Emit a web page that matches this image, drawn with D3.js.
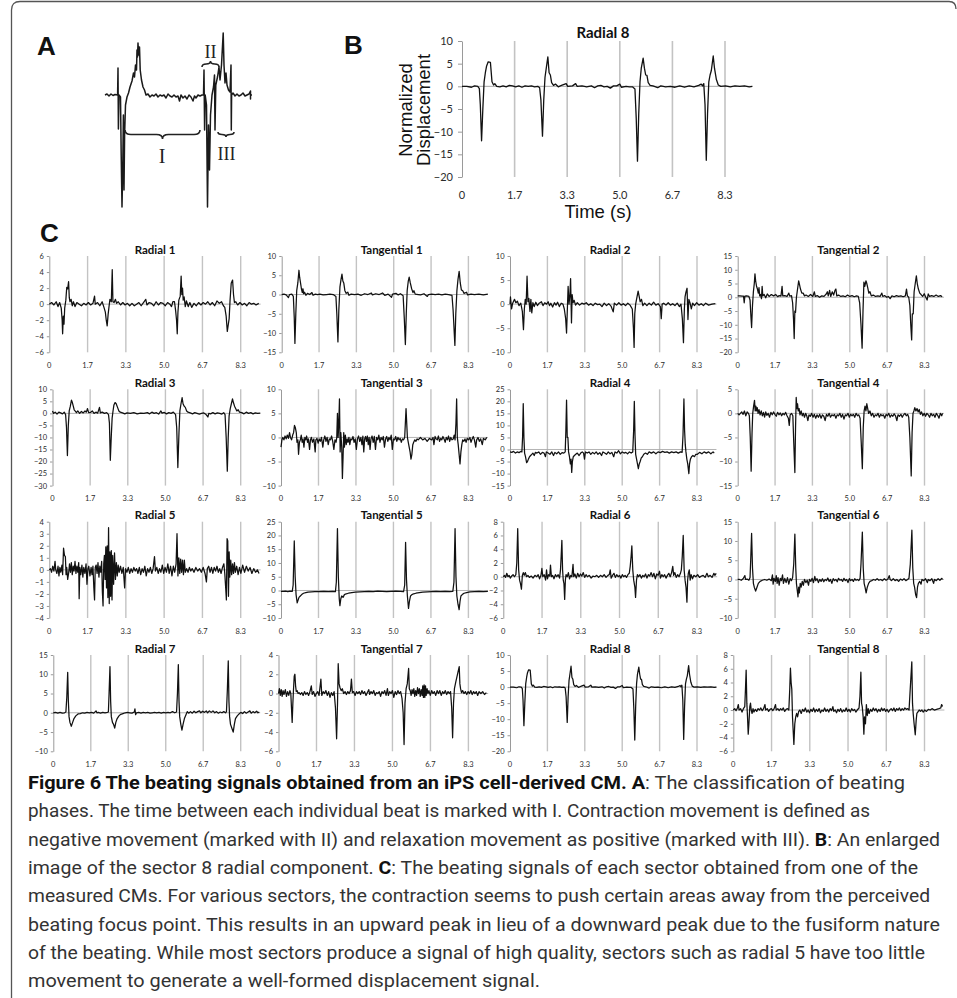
<!DOCTYPE html>
<html><head><meta charset="utf-8">
<script src="https://cdn.jsdelivr.net/npm/d3@7"></script>
<style>body{margin:0;background:#fff}svg{display:block}</style>
</head><body>
<script>
// ---------------- DATA ----------------
const timeTicks = [0, 1.667, 3.333, 5.0, 6.667, 8.333];
const timeTickLabels = ["0", "1.7", "3.3", "5.0", "6.7", "8.3"];

const panelTitles = ["Radial 1","Tangential 1","Radial 2","Tangential 2",
  "Radial 3","Tangential 3","Radial 4","Tangential 4",
  "Radial 5","Tangential 5","Radial 6","Tangential 6",
  "Radial 7","Tangential 7","Radial 8","Tangential 8"];
const yMin  = [-6,-15,-10,-20, -30,-10,-15,-15, -4,-10,-6,-10, -10,-6,-20,-6];
const yMax  = [ 6, 10, 10, 15,  10, 10, 25,  5,  4, 25, 8, 15,  15, 4, 10, 8];
const yStep = [ 2,  5,  5,  5,   5,  5,  5,  5,  1,  5, 2,  5,   5, 2,  5, 2];

const radial1 = [[0,0],[0.1,0.2],[0.2,-0.1],[0.3,0.3],[0.38,-0.3],[0.45,0.2],[0.52,-0.5],[0.56,-2],[0.58,-3.7],[0.61,-1.5],[0.64,-2.5],[0.67,-0.5],[0.72,0.5],[0.76,2.1],[0.8,1.9],[0.84,2.8],[0.87,0.8],[0.9,0.3],[0.95,0.6],[1.0,-0.2],[1.05,0.3],[1.12,-0.3],[1.2,0.2],[1.3,0],[1.4,-0.2],[1.5,0.1],[1.6,-0.1],[1.7,0.2],[1.8,-0.1],[1.9,0.1],[1.97,1],[2.0,0],[2.1,0.2],[2.2,-0.2],[2.3,0.3],[2.38,-0.4],[2.44,-1],[2.48,-2],[2.52,-2.7],[2.56,-1.3],[2.6,-0.3],[2.64,0.6],[2.7,0.3],[2.74,4.3],[2.77,0.3],[2.82,0.2],[2.88,0.6],[2.93,0.1],[3.0,0.3],[3.1,-0.1],[3.2,0.2],[3.3,-0.1],[3.4,0.1],[3.5,-0.2],[3.6,0.1],[3.7,-0.2],[3.8,0],[3.9,0.2],[4.0,-0.2],[4.1,0.2],[4.2,0.6],[4.25,-0.1],[4.35,0.2],[4.45,0.1],[4.55,-0.2],[4.65,0.3],[4.75,-0.1],[4.85,0.2],[4.95,0.1],[5.05,-0.2],[5.15,0.2],[5.25,0],[5.32,-0.3],[5.38,0.3],[5.45,0.3],[5.5,-0.8],[5.54,-2],[5.57,-3.7],[5.6,-1],[5.64,0.5],[5.7,1],[5.74,3.5],[5.77,1.2],[5.8,2],[5.83,0.5],[5.87,0.9],[5.92,-0.3],[5.97,0.4],[6.05,-0.3],[6.12,0.2],[6.2,-0.4],[6.3,0.1],[6.4,-0.2],[6.5,0.2],[6.6,-0.1],[6.7,0.2],[6.8,0],[6.9,0.3],[7.0,-0.1],[7.1,0.2],[7.2,-0.2],[7.3,0.4],[7.4,0.1],[7.5,0.3],[7.58,-0.2],[7.64,-0.4],[7.7,-1.5],[7.75,-3.4],[7.79,-2.6],[7.83,-1.8],[7.87,0.5],[7.92,2.6],[7.98,3],[8.02,1.2],[8.06,0.2],[8.12,0.3],[8.2,-0.1],[8.3,0.2],[8.4,-0.1],[8.5,0.1],[8.6,-0.2],[8.7,0.2],[8.8,0],[8.9,0.1],[9.0,-0.1],[9.12,0.1]];

const tangential1 = [[0,0],[0.1,0.1],[0.2,-0.1],[0.3,-0.8],[0.35,0],[0.45,0.1],[0.52,-0.5],[0.56,-6],[0.59,-12.7],[0.63,-5],[0.67,1],[0.72,3],[0.77,6.3],[0.8,4.5],[0.84,3],[0.88,1.5],[0.92,0.5],[0.95,1.5],[0.98,0.2],[1.02,0.6],[1.08,-0.2],[1.15,0.3],[1.25,0],[1.35,0.5],[1.4,-0.2],[1.5,0.1],[1.6,0],[1.7,0.1],[1.85,-0.1],[2.0,0],[2.15,0.1],[2.3,0],[2.42,-0.5],[2.46,-5],[2.51,-12.3],[2.55,-4],[2.6,2],[2.65,4],[2.69,5.3],[2.73,3.5],[2.77,3],[2.82,1],[2.88,0.3],[2.95,0.6],[3.0,-0.2],[3.1,0.1],[3.25,0],[3.4,0.1],[3.55,-0.2],[3.7,0.2],[3.85,0],[4.0,0.4],[4.05,-0.1],[4.2,0.2],[4.35,0],[4.5,0.4],[4.6,-0.2],[4.75,0.1],[4.9,-0.7],[4.95,0.1],[5.1,0.3],[5.2,-0.1],[5.3,0.2],[5.42,-0.3],[5.47,-6],[5.52,-13],[5.56,-5],[5.6,1],[5.65,3.5],[5.69,4.5],[5.74,3],[5.8,1.5],[5.86,0.5],[5.9,1],[5.96,0.1],[6.1,0],[6.2,-0.1],[6.35,0.2],[6.5,-0.5],[6.55,0],[6.7,0.1],[6.85,0],[7.0,0.1],[7.15,-0.1],[7.3,0.1],[7.45,0],[7.6,-0.2],[7.65,-4],[7.73,-13.2],[7.77,-5],[7.82,1],[7.87,4],[7.92,6],[7.97,3],[8.02,1.2],[8.08,1],[8.14,0.3],[8.25,0.6],[8.3,-0.1],[8.45,0.1],[8.6,0],[8.8,0.1],[9.0,-0.1],[9.2,0.1]];

const radial2 = [[0,0],[0.02,1.5],[0.07,-1],[0.12,0.2],[0.2,1],[0.26,0.3],[0.33,0.6],[0.4,-0.3],[0.48,0.2],[0.55,-1.5],[0.6,-5.3],[0.64,-1],[0.68,1],[0.72,0],[0.76,5.8],[0.8,0.5],[0.84,1.2],[0.89,-1.5],[0.93,1],[0.97,-1.8],[1.02,0.3],[1.08,-0.5],[1.15,0.4],[1.22,-0.3],[1.3,0.2],[1.4,0.5],[1.47,-0.3],[1.55,0.3],[1.63,0],[1.7,0.5],[1.76,-0.3],[1.82,0.2],[1.9,-0.6],[1.98,0.3],[2.05,-0.2],[2.12,0.4],[2.2,-0.5],[2.28,0.2],[2.36,0],[2.42,-1],[2.48,-3],[2.52,-6],[2.56,-0.5],[2.59,3.7],[2.63,0],[2.67,2],[2.7,5.3],[2.74,-3.9],[2.77,2],[2.81,0.3],[2.86,0.8],[2.92,-0.2],[3.0,0.3],[3.1,-0.2],[3.2,0.2],[3.3,0],[3.4,0.3],[3.5,-0.2],[3.6,0.1],[3.7,-0.3],[3.8,0.2],[3.9,-0.1],[4.0,0],[4.1,-0.5],[4.2,0.2],[4.3,-0.3],[4.4,0.1],[4.5,-0.4],[4.6,-1.6],[4.65,0.2],[4.75,-0.2],[4.85,0.3],[4.95,-0.2],[5.05,0.1],[5.15,-0.3],[5.25,0.2],[5.35,-0.2],[5.45,-1],[5.5,-5],[5.53,-9],[5.56,-2],[5.6,0],[5.66,1.5],[5.71,2.7],[5.76,1.5],[5.8,0.5],[5.86,1],[5.92,-0.3],[6.0,0.2],[6.1,-0.3],[6.2,0.2],[6.3,-0.2],[6.4,0.4],[6.5,-0.2],[6.6,0.1],[6.7,-0.5],[6.74,-3],[6.78,0],[6.85,0.2],[6.95,-0.2],[7.05,0.3],[7.15,-0.2],[7.25,0.1],[7.35,-0.3],[7.45,0.2],[7.55,-0.5],[7.62,0],[7.68,-3],[7.73,-8],[7.77,-1],[7.8,1.5],[7.84,2.5],[7.89,3.3],[7.93,-3.2],[7.97,1],[8.02,0.3],[8.08,-1],[8.14,0.2],[8.22,-0.3],[8.32,0.3],[8.42,-0.2],[8.52,0.1],[8.62,-0.3],[8.72,0.2],[8.85,-0.2],[9.0,0],[9.15,0.1]];

const tangential2 = [[0,0.5],[0.1,0.5],[0.2,0.4],[0.26,0.4],[0.29,-2],[0.32,0.4],[0.4,0.5],[0.5,0.3],[0.55,-1],[0.59,-7],[0.62,-11],[0.66,-3],[0.7,2],[0.74,5],[0.77,8.5],[0.8,6],[0.84,4],[0.88,3],[0.92,1.5],[0.95,3.5],[0.98,0.5],[1.02,1],[1.06,-0.5],[1.09,4],[1.12,0.5],[1.18,1],[1.25,-0.2],[1.32,1.2],[1.4,0.3],[1.5,1],[1.6,0.5],[1.7,1],[1.78,0.2],[1.85,0.6],[1.93,0.4],[1.98,4],[2.01,0.5],[2.1,0.6],[2.2,0.3],[2.28,1.5],[2.32,0.4],[2.4,0.6],[2.45,-2],[2.49,-8],[2.52,-15],[2.55,-5],[2.58,-5.5],[2.62,0],[2.67,3],[2.72,6],[2.76,4.5],[2.8,3],[2.86,1.5],[2.92,1.5],[2.98,0.5],[3.05,0.8],[3.15,0.3],[3.25,1],[3.35,0.3],[3.42,2],[3.46,0.3],[3.55,0.6],[3.65,0],[3.75,0.5],[3.85,0.3],[3.95,1.2],[4.0,2],[4.04,0.5],[4.1,2.5],[4.15,0.3],[4.22,2],[4.28,0.8],[4.34,2.5],[4.38,3],[4.42,0.5],[4.5,0.8],[4.6,0.3],[4.7,0.5],[4.8,0.2],[4.9,0.8],[5.0,0.3],[5.1,0.6],[5.2,0.2],[5.3,0.5],[5.38,0.3],[5.44,-2],[5.5,-10],[5.55,-18.5],[5.59,-5],[5.63,5.5],[5.67,4],[5.72,6],[5.76,5],[5.8,3.5],[5.85,1.5],[5.9,2],[5.96,0.5],[6.05,0.8],[6.15,0.3],[6.25,0.5],[6.35,0.3],[6.43,1.5],[6.47,0.3],[6.55,0.6],[6.65,0],[6.72,0.3],[6.8,-0.5],[6.88,0.5],[6.98,0.2],[7.08,0.6],[7.18,0.3],[7.28,0.5],[7.38,0.2],[7.48,0.5],[7.53,3],[7.57,0.5],[7.63,0],[7.68,-3],[7.72,-10],[7.76,-15.5],[7.79,-6],[7.83,-6],[7.87,2],[7.92,5],[7.97,7.8],[8.01,5],[8.06,3],[8.12,1.5],[8.18,1],[8.25,0.3],[8.32,1.3],[8.38,0.2],[8.45,-1],[8.5,1.2],[8.56,0.3],[8.65,0.6],[8.75,0.3],[8.85,0.8],[8.95,0.3],[9.05,0.6],[9.12,0.2]];

const radial3 = [[0,1],[0.05,0],[0.12,0.5],[0.2,-0.3],[0.28,0.5],[0.36,0.2],[0.44,-0.2],[0.52,0.5],[0.58,-0.5],[0.62,-6],[0.66,-17.5],[0.7,-5],[0.74,1],[0.79,3],[0.84,5.5],[0.88,4.5],[0.92,3],[0.96,1.5],[1.0,1],[1.06,0.3],[1.12,1],[1.2,0],[1.28,0.8],[1.36,0.2],[1.44,1],[1.5,0.5],[1.55,2],[1.6,0.3],[1.68,0.4],[1.76,1],[1.84,0],[1.92,0.5],[2.0,0.1],[2.08,2.5],[2.12,0.2],[2.2,0.5],[2.3,0],[2.4,0.3],[2.48,-0.5],[2.52,-4],[2.56,-19.5],[2.6,-10],[2.64,-2],[2.68,1],[2.72,3.5],[2.77,4.5],[2.82,4],[2.88,2.5],[2.94,1],[3.0,0.5],[3.1,0.2],[3.2,-0.2],[3.3,0.2],[3.45,0],[3.6,0.3],[3.75,-0.2],[3.9,0.1],[4.05,0],[4.2,0.3],[4.3,-0.2],[4.4,0.5],[4.5,0],[4.6,0.3],[4.7,-0.3],[4.8,1],[4.85,0.1],[4.95,0.4],[5.05,-0.2],[5.15,0.3],[5.25,0],[5.35,0.5],[5.45,-0.5],[5.5,-6],[5.55,-22.5],[5.6,-8],[5.64,1],[5.69,4],[5.74,6.5],[5.78,4],[5.83,3],[5.88,2.5],[5.94,1],[6.0,0.5],[6.1,0.2],[6.2,-0.2],[6.3,0.3],[6.4,0],[6.5,-0.3],[6.6,0],[6.7,0.2],[6.8,-0.5],[6.88,-1.5],[6.92,0],[7.0,-0.2],[7.1,0.3],[7.2,-0.2],[7.3,0.2],[7.4,0],[7.5,-0.3],[7.58,0.3],[7.64,-0.5],[7.69,-10],[7.74,-24],[7.78,-10],[7.82,-1],[7.87,2],[7.92,4],[7.97,6],[8.01,4.5],[8.06,3],[8.11,2],[8.16,1],[8.22,1.5],[8.28,0.5],[8.38,0.3],[8.48,-0.2],[8.58,0.5],[8.68,0],[8.78,0.3],[8.88,-0.2],[8.98,0.2],[9.08,0],[9.2,0.1]];

const tangential3 = [[0,-2],[0.04,-0.5],[0.08,0],[0.13,-0.5],[0.18,0.3],[0.23,-0.3],[0.28,0.5],[0.33,-0.2],[0.38,1],[0.42,0],[0.47,-0.5],[0.52,0.5],[0.56,1],[0.6,2.5],[0.64,2],[0.68,1],[0.71,-1],[0.75,-0.5],[0.78,-3.5],[0.82,-1],[0.86,-0.5],[0.9,0.5],[0.94,-1],[0.98,-0.3],[1.02,-2],[1.06,0],[1.1,-0.5],[1.14,0.3],[1.18,-1],[1.22,-0.3],[1.27,-2.5],[1.31,-0.5],[1.35,0],[1.4,-1],[1.46,-0.3],[1.52,-3],[1.55,-0.5],[1.6,-0.2],[1.65,-1.2],[1.7,-0.3],[1.75,-0.8],[1.8,0],[1.86,-2],[1.9,-0.5],[1.95,0.3],[2.0,-0.8],[2.05,0],[2.1,-1.5],[2.15,-0.3],[2.2,-0.5],[2.25,0.3],[2.3,-0.8],[2.35,-2.5],[2.4,-0.5],[2.45,-1],[2.48,0],[2.51,5],[2.54,0],[2.57,3],[2.6,8],[2.63,-3],[2.66,1],[2.7,-2],[2.73,-8.5],[2.76,-4],[2.79,1],[2.82,-2],[2.86,0.5],[2.9,-1.5],[2.94,-0.3],[2.98,-1],[3.02,0],[3.06,-1.5],[3.1,-0.3],[3.15,-0.5],[3.2,0.2],[3.25,-1],[3.3,-0.3],[3.35,-2.5],[3.4,-0.3],[3.45,0.3],[3.5,-0.8],[3.55,0],[3.6,-1.5],[3.64,0.3],[3.68,-3],[3.72,-0.3],[3.76,0.2],[3.8,-0.8],[3.84,0.3],[3.88,-1.5],[3.92,0],[3.96,-2.5],[4.0,-0.3],[4.05,0.3],[4.1,-1],[4.15,0.2],[4.2,-2.5],[4.25,0],[4.3,-0.5],[4.35,0.5],[4.4,-1],[4.45,0],[4.5,-0.5],[4.55,0.2],[4.6,-2],[4.65,-0.3],[4.7,0.2],[4.75,-0.8],[4.8,0],[4.85,-0.5],[4.9,0.5],[4.95,-2.5],[5.0,-0.3],[5.05,-0.5],[5.1,0.2],[5.15,-0.8],[5.2,0],[5.25,-0.5],[5.3,-0.2],[5.35,-1],[5.4,-0.3],[5.45,-0.5],[5.5,0],[5.53,3],[5.56,6],[5.59,3],[5.62,0],[5.66,-1],[5.7,-2],[5.74,-3],[5.78,-4.5],[5.82,-3.5],[5.86,-1.5],[5.9,-1],[5.95,-0.5],[6.0,-0.8],[6.05,-0.3],[6.1,-0.5],[6.2,0],[6.3,-0.5],[6.4,-0.2],[6.5,-0.8],[6.6,-0.2],[6.7,-0.5],[6.76,0],[6.8,-1.5],[6.85,0.2],[6.9,-0.3],[6.95,-0.5],[7.0,0.3],[7.05,-0.8],[7.1,-0.2],[7.15,-0.5],[7.2,0.2],[7.25,-0.3],[7.3,-1],[7.35,0],[7.4,-0.5],[7.45,0.3],[7.5,-0.8],[7.55,0],[7.6,-0.5],[7.66,-0.3],[7.7,0.5],[7.74,-0.5],[7.78,3],[7.81,8],[7.84,0],[7.88,-1.5],[7.92,-3.5],[7.96,-5.5],[8.0,-3],[8.04,-1.5],[8.08,-0.5],[8.13,-0.8],[8.18,-0.3],[8.23,-1],[8.28,-0.2],[8.34,-0.5],[8.4,0],[8.45,-1],[8.5,-0.3],[8.55,0.2],[8.6,-0.5],[8.66,-2],[8.7,-0.5],[8.76,0],[8.82,-0.8],[8.88,-0.3],[8.95,-1.5],[9.0,-0.2],[9.08,-0.5],[9.15,0]];

const radial4 = [[0,-1],[0.08,-1.2],[0.16,-0.8],[0.24,-1.5],[0.32,-1],[0.4,-1.3],[0.48,-0.8],[0.53,-1],[0.56,5],[0.59,19],[0.62,5],[0.65,-1.5],[0.69,-3],[0.74,-5.5],[0.78,-5],[0.82,-4],[0.87,-3],[0.92,-2.5],[0.97,-2],[1.02,-1.5],[1.08,-2.5],[1.13,-1.2],[1.2,-1.5],[1.28,-1],[1.36,-2],[1.44,-1.2],[1.52,-1.5],[1.58,-3],[1.62,-1],[1.7,-1.5],[1.78,-2],[1.86,-1],[1.94,-2.5],[2.0,-1.2],[2.08,-1.8],[2.16,-1],[2.24,-2],[2.32,-1.3],[2.4,-1.5],[2.46,-1],[2.49,8],[2.52,20.5],[2.55,5],[2.58,5],[2.61,-1],[2.65,-3],[2.69,-6],[2.72,-4],[2.75,-9.5],[2.78,-5],[2.82,-3],[2.87,-2.5],[2.93,-2],[3.0,-1.5],[3.08,-2.5],[3.15,-1.5],[3.22,-1],[3.28,-1.5],[3.32,-4],[3.36,-1],[3.44,-1.5],[3.52,-1],[3.6,-2],[3.68,-1.2],[3.76,-1.8],[3.84,-1],[3.92,-2],[4.0,-1.3],[4.08,-2.5],[4.14,-1],[4.22,-1.5],[4.3,-2],[4.38,-1],[4.46,-1.8],[4.54,-1.2],[4.62,-3],[4.68,-1],[4.76,-1.5],[4.84,-0.5],[4.92,-1.8],[5.0,-1],[5.08,-1.5],[5.16,-1.2],[5.24,-1.8],[5.32,-1],[5.4,-1.5],[5.47,-1],[5.51,8],[5.54,20],[5.57,6],[5.6,-2],[5.64,-4],[5.68,-6],[5.72,-8],[5.76,-6],[5.8,-5],[5.85,-3.5],[5.9,-3],[5.96,-2],[6.04,-1.5],[6.12,-2],[6.2,-1],[6.3,-1.5],[6.4,-1],[6.5,-1.8],[6.6,-1],[6.7,-1.3],[6.8,-0.8],[6.9,-1.2],[7.0,-1],[7.1,-1.5],[7.2,-1],[7.3,-1.3],[7.4,-1],[7.5,-1.5],[7.6,-1],[7.67,-1.2],[7.71,6],[7.75,21],[7.78,8],[7.81,2],[7.84,-1],[7.88,-4],[7.92,-6],[7.97,-10],[8.0,-6],[8.04,-4],[8.09,-3],[8.15,-2.5],[8.22,-3],[8.28,-2],[8.35,-2],[8.45,-1.2],[8.55,-1.8],[8.65,-1],[8.75,-1.5],[8.85,-1],[8.95,-1.8],[9.05,-1],[9.1,-1.5]];

const tangential4 = [[0,0],[0.06,-0.3],[0.12,0],[0.18,0.3],[0.24,-0.2],[0.3,0.5],[0.36,-0.5],[0.42,0.3],[0.48,0],[0.52,-0.5],[0.56,-5],[0.6,-12],[0.64,-4],[0.67,0],[0.71,1.5],[0.75,2.7],[0.78,0.5],[0.81,1.5],[0.84,0.5],[0.87,1.2],[0.91,0],[0.95,0.8],[1.0,-0.3],[1.05,0.5],[1.1,-0.5],[1.15,0.2],[1.2,-0.8],[1.25,0.3],[1.3,-0.4],[1.36,0],[1.42,-0.8],[1.48,0.2],[1.54,-0.3],[1.6,0.3],[1.66,-0.2],[1.72,-0.6],[1.78,0.2],[1.84,-0.3],[1.9,0.1],[1.96,-0.5],[2.02,0],[2.08,-0.3],[2.14,0.2],[2.2,-0.5],[2.26,-1],[2.3,-2.5],[2.34,-0.3],[2.4,0],[2.46,-0.5],[2.5,-6],[2.55,-12.3],[2.58,-3],[2.61,3.3],[2.64,1],[2.67,2],[2.7,0.5],[2.74,1],[2.78,-0.3],[2.83,0.5],[2.88,-0.5],[2.93,0],[2.98,-0.8],[3.03,0],[3.08,-0.5],[3.13,-1.5],[3.18,-0.3],[3.24,-0.6],[3.3,0],[3.36,-0.8],[3.42,-0.2],[3.48,-1],[3.54,-0.3],[3.6,-0.8],[3.66,-0.2],[3.72,-1],[3.78,-0.3],[3.84,-0.6],[3.9,-1.5],[3.96,-0.2],[4.02,-0.6],[4.08,0],[4.14,-0.8],[4.2,-0.3],[4.26,-0.5],[4.32,-0.2],[4.38,-1],[4.44,-0.3],[4.5,-0.5],[4.56,0],[4.62,-0.8],[4.68,-0.2],[4.74,-1.2],[4.8,-0.3],[4.86,-0.5],[4.92,0],[4.98,-0.8],[5.04,-0.2],[5.1,-0.5],[5.16,-0.2],[5.22,-0.8],[5.28,0],[5.34,-0.5],[5.4,-0.3],[5.46,-1],[5.51,-6],[5.56,-11.5],[5.6,-3],[5.64,0.5],[5.68,1.5],[5.72,0.5],[5.76,2],[5.8,1],[5.84,0],[5.9,0.5],[5.96,-0.5],[6.02,0],[6.08,-0.8],[6.14,-0.3],[6.2,-0.5],[6.26,0],[6.32,-0.8],[6.38,-0.2],[6.44,-0.5],[6.5,-0.3],[6.56,-1],[6.62,-0.2],[6.68,-0.5],[6.74,0],[6.8,-0.8],[6.86,-0.3],[6.92,-0.6],[6.98,-0.1],[7.04,-0.5],[7.1,-1.5],[7.15,-0.3],[7.22,-0.6],[7.28,-0.2],[7.34,-0.8],[7.4,-0.3],[7.46,0],[7.52,-0.5],[7.58,-0.2],[7.63,-0.8],[7.68,-5],[7.74,-13],[7.78,-4],[7.82,0],[7.86,0.5],[7.9,1.2],[7.95,0.5],[8.0,1],[8.05,0.3],[8.1,0.8],[8.15,-0.2],[8.2,0.3],[8.26,-0.5],[8.32,0],[8.38,-0.6],[8.44,0],[8.5,-0.3],[8.56,-0.8],[8.62,0],[8.68,-0.5],[8.74,-0.2],[8.8,-0.8],[8.86,0],[8.92,-0.4],[8.98,-1],[9.04,0],[9.1,-0.5],[9.14,0]];

const radial5 = [[0,0],[0.05,0.1],[0.1,-0.2],[0.15,0.3],[0.2,-0.1],[0.25,0.7],[0.28,0],[0.33,-0.3],[0.38,0.3],[0.42,-0.5],[0.46,0.2],[0.5,-0.2],[0.55,0.4],[0.58,-0.4],[0.62,1.8],[0.66,1.2],[0.7,1.1],[0.73,-0.4],[0.76,0.2],[0.8,-0.8],[0.84,-0.3],[0.88,0.5],[0.92,-0.2],[0.96,0.6],[1.0,-0.4],[1.04,0.3],[1.08,-0.1],[1.12,0.7],[1.16,-0.3],[1.2,0.3],[1.24,-0.2],[1.28,0.6],[1.3,-2.4],[1.33,0.2],[1.37,-0.4],[1.42,0.4],[1.46,-0.6],[1.5,0.2],[1.55,-0.3],[1.6,0.5],[1.64,-1.2],[1.68,0.1],[1.72,0.3],[1.77,-0.5],[1.82,0.2],[1.86,-0.4],[1.9,0.3],[1.94,-1.5],[1.97,-2.5],[2.0,0.2],[2.04,0.4],[2.08,-0.3],[2.12,0.6],[2.16,-0.6],[2.2,0.3],[2.24,-0.2],[2.28,0.7],[2.31,-1.8],[2.34,-3],[2.37,0.5],[2.4,1.2],[2.43,-0.8],[2.46,1.9],[2.49,-1.5],[2.52,2],[2.55,-2.3],[2.58,3.5],[2.61,-2.8],[2.64,1.5],[2.67,-2.2],[2.7,1.6],[2.73,-2.5],[2.76,1.2],[2.8,-1.2],[2.84,1.4],[2.88,-0.8],[2.92,0.6],[2.96,-0.5],[3.0,0.4],[3.04,-0.2],[3.1,0.3],[3.16,-0.3],[3.22,0.2],[3.28,-1.5],[3.32,0.1],[3.38,-0.2],[3.44,0.2],[3.5,-0.3],[3.56,0.1],[3.62,-0.2],[3.68,0.2],[3.74,-0.1],[3.8,0.1],[3.86,-0.3],[3.92,0.2],[3.98,-0.4],[4.04,0.1],[4.1,-0.2],[4.16,0.3],[4.22,-0.5],[4.28,0.1],[4.34,-0.2],[4.4,0.2],[4.46,-0.3],[4.52,0.1],[4.58,1.1],[4.62,-0.1],[4.68,0.2],[4.74,-0.3],[4.8,0.1],[4.86,-0.2],[4.92,0.4],[4.98,-0.3],[5.04,0.2],[5.1,-0.2],[5.16,0.5],[5.22,-0.3],[5.28,0.3],[5.34,-0.5],[5.4,0.3],[5.46,-0.2],[5.52,0.5],[5.56,3],[5.6,-0.5],[5.64,1],[5.68,-0.3],[5.72,0.9],[5.76,-0.2],[5.8,0.8],[5.84,-0.4],[5.88,0.8],[5.92,-0.2],[5.98,0.1],[6.04,-0.2],[6.1,0.2],[6.16,-0.1],[6.22,0.1],[6.3,-0.2],[6.38,0.2],[6.46,-0.1],[6.54,0.1],[6.62,-0.2],[6.7,0.2],[6.78,-0.3],[6.84,-1],[6.88,0.1],[6.94,0.3],[7.0,-0.2],[7.06,0.2],[7.12,-0.3],[7.18,0.2],[7.24,-0.1],[7.3,0.3],[7.36,-0.2],[7.42,0.1],[7.48,-0.3],[7.54,0.2],[7.6,0.5],[7.64,-0.3],[7.68,-1.5],[7.71,-2.5],[7.74,2.6],[7.77,2.4],[7.8,-2.2],[7.83,1.5],[7.86,-0.6],[7.9,0.8],[7.94,-0.4],[7.98,0.5],[8.02,-0.3],[8.06,0.6],[8.1,-0.2],[8.16,0.3],[8.22,-0.4],[8.28,0.2],[8.34,-0.3],[8.42,0.4],[8.5,-0.2],[8.58,0.3],[8.66,-0.1],[8.74,0.2],[8.82,-0.3],[8.9,0.1],[8.98,-0.2],[9.06,0],[9.13,-0.3]];

const tangential5 = [[0,-0.3],[0.1,-0.3],[0.2,-0.2],[0.3,-0.4],[0.4,-0.2],[0.5,-0.3],[0.54,2],[0.59,18],[0.63,5],[0.67,-1.5],[0.72,-4.5],[0.76,-3.5],[0.8,-2.5],[0.86,-2],[0.92,-1.5],[1.0,-1],[1.1,-0.8],[1.2,-0.6],[1.35,-0.5],[1.5,-0.4],[1.7,-0.4],[1.9,-0.3],[2.1,-0.4],[2.3,-0.3],[2.42,-0.4],[2.46,3],[2.51,22.5],[2.55,5],[2.59,-3],[2.62,-5.5],[2.66,-3],[2.7,-2],[2.76,-2.5],[2.82,-1.5],[2.9,-1.2],[3.0,-1],[3.15,-0.8],[3.3,-0.6],[3.5,-0.5],[3.7,-0.4],[3.9,-0.3],[4.1,-0.4],[4.3,-0.2],[4.5,-0.3],[4.7,-0.4],[4.9,-0.3],[5.1,-0.2],[5.3,-0.3],[5.45,-0.4],[5.5,2],[5.54,17.5],[5.58,4],[5.62,-2],[5.67,-6.5],[5.71,-4],[5.76,-2],[5.82,-1.5],[5.9,-1.2],[6.0,-1],[6.15,-0.8],[6.3,-0.6],[6.5,-0.5],[6.7,-0.4],[6.9,-0.3],[7.1,-0.4],[7.3,-0.3],[7.5,-0.4],[7.64,-0.3],[7.69,3],[7.74,22.5],[7.78,5],[7.82,-2],[7.87,-5],[7.92,-7],[7.96,-4],[8.0,-2],[8.06,-1.5],[8.14,-1],[8.25,-0.8],[8.4,-0.5],[8.6,-0.4],[8.8,-0.3],[9.0,-0.4],[9.2,-0.3]];

const radial6 = [[0,0],[0.05,0.2],[0.1,-0.1],[0.15,0.5],[0.2,0],[0.25,0.2],[0.3,-0.2],[0.36,0.1],[0.42,0.3],[0.48,0],[0.54,0.3],[0.58,2],[0.62,7],[0.66,1],[0.7,-0.5],[0.74,-1],[0.78,-1.8],[0.82,0.2],[0.86,0.6],[0.9,0.2],[0.95,0.6],[1.0,0],[1.06,0.2],[1.12,-0.1],[1.2,0.1],[1.28,-0.2],[1.36,0.2],[1.44,0],[1.5,0.3],[1.56,-0.3],[1.62,0.2],[1.66,1.2],[1.7,0],[1.76,0.3],[1.82,-0.5],[1.86,1],[1.9,-0.3],[1.95,0.3],[2.0,0.1],[2.03,1.7],[2.07,0],[2.12,0.2],[2.18,-0.3],[2.24,0.3],[2.3,0],[2.36,0.3],[2.42,-0.2],[2.46,1],[2.49,3],[2.52,5.3],[2.55,1],[2.58,-0.5],[2.61,-1],[2.64,-3.3],[2.67,-0.5],[2.7,0.3],[2.75,0],[2.8,0.6],[2.85,-0.3],[2.9,0.2],[2.95,0],[3.0,1.8],[3.03,0],[3.08,0.4],[3.14,-0.2],[3.2,0.5],[3.26,0],[3.32,0.4],[3.38,0.1],[3.44,0.6],[3.5,-0.1],[3.56,0.3],[3.62,0],[3.7,0.2],[3.78,-0.2],[3.86,0.1],[3.94,0],[4.02,0.2],[4.1,-0.1],[4.18,0.2],[4.26,0],[4.34,0.3],[4.42,-0.1],[4.5,0.2],[4.56,0.3],[4.6,1],[4.64,-0.2],[4.7,0.2],[4.76,0.5],[4.82,-0.1],[4.88,0.3],[4.94,0],[5.0,0.2],[5.06,-0.2],[5.12,0.3],[5.18,0],[5.24,0.2],[5.3,-0.1],[5.36,0.3],[5.42,0.5],[5.46,1.5],[5.5,3],[5.53,4.5],[5.57,1],[5.61,-0.5],[5.66,-1.5],[5.69,-3],[5.73,-0.5],[5.77,0.3],[5.82,0],[5.88,0.3],[5.94,-0.2],[6.0,0.2],[6.06,0],[6.12,0.4],[6.18,-0.2],[6.24,0.3],[6.3,0.1],[6.36,0.6],[6.42,0],[6.48,0.5],[6.54,-0.3],[6.6,0.4],[6.66,0.2],[6.72,0.8],[6.76,-0.2],[6.82,0.3],[6.88,0],[6.94,0.3],[7.0,-0.2],[7.06,0.2],[7.12,0.5],[7.18,0],[7.24,0.6],[7.29,1.5],[7.33,0.2],[7.38,0.6],[7.44,-0.1],[7.5,0.3],[7.56,0],[7.62,0.5],[7.66,1],[7.7,3],[7.74,6],[7.78,1],[7.82,-0.5],[7.86,-1.5],[7.9,-3.7],[7.93,-0.5],[7.96,0.5],[8.0,1],[8.04,-0.5],[8.08,0.3],[8.14,-0.3],[8.2,0.2],[8.28,0],[8.36,0.3],[8.44,-0.1],[8.52,0.1],[8.6,0.2],[8.68,-0.1],[8.76,0.5],[8.82,0],[8.9,0.2],[8.98,-0.1],[9.06,0.5],[9.1,0.2],[9.16,0.5]];

const tangential6 = [[0,0],[0.08,0],[0.16,-0.2],[0.24,0.2],[0.32,1],[0.35,0],[0.42,0.1],[0.5,-0.2],[0.55,0.5],[0.58,5],[0.62,12],[0.66,3],[0.7,-1],[0.74,-2],[0.8,-3],[0.86,-2],[0.92,-1],[1.0,-0.5],[1.1,-0.2],[1.2,0],[1.3,-0.2],[1.4,0.1],[1.5,-0.3],[1.55,1.2],[1.58,-1.2],[1.62,0.3],[1.68,-0.5],[1.72,1],[1.76,-1],[1.8,0.5],[1.85,-1.5],[1.9,0.3],[1.95,-0.3],[2.0,1.2],[2.04,-1],[2.1,0.3],[2.16,-0.8],[2.22,0.5],[2.28,-1.2],[2.34,0.2],[2.4,-0.3],[2.45,0.5],[2.5,4],[2.55,11.8],[2.59,3],[2.62,-1],[2.66,-3],[2.69,-4.5],[2.72,-2],[2.75,-3.5],[2.79,-1],[2.83,-2],[2.88,-0.5],[2.93,-1.5],[2.98,0],[3.04,-0.8],[3.1,-0.2],[3.16,-1.5],[3.2,0],[3.26,-0.5],[3.32,0.3],[3.38,-0.8],[3.44,0.8],[3.48,-0.3],[3.54,0.2],[3.6,-0.8],[3.66,0],[3.72,-0.5],[3.78,0.2],[3.84,-0.6],[3.9,0],[3.96,-0.3],[4.02,0.4],[4.08,-0.5],[4.14,0],[4.2,-1],[4.26,0.2],[4.32,-0.3],[4.38,0],[4.44,-0.6],[4.5,0.3],[4.56,-0.2],[4.62,0],[4.68,-0.5],[4.74,0.3],[4.8,-0.3],[4.86,0],[4.92,-0.8],[4.98,0.2],[5.04,-0.3],[5.1,0],[5.16,-0.5],[5.22,0.2],[5.28,-0.2],[5.34,0],[5.4,-0.3],[5.46,0.3],[5.5,4],[5.56,12.3],[5.6,3],[5.64,-1],[5.68,-2],[5.73,-3.5],[5.78,-2],[5.84,-1],[5.9,-0.5],[5.98,-0.3],[6.06,0],[6.14,-0.2],[6.22,0.2],[6.3,-0.2],[6.38,0],[6.46,-0.3],[6.54,0.2],[6.62,-0.2],[6.7,0.1],[6.76,1],[6.8,0],[6.86,-0.3],[6.94,0.2],[7.02,-0.3],[7.1,0],[7.18,-0.5],[7.26,0.1],[7.34,-0.2],[7.42,0.2],[7.5,-0.3],[7.58,0],[7.64,0.3],[7.7,4],[7.77,12.8],[7.81,3],[7.85,-1],[7.89,-2],[7.94,-4],[7.98,-4.7],[8.02,-2],[8.06,-1],[8.12,-0.5],[8.18,-1.2],[8.22,0],[8.3,-0.3],[8.38,0.2],[8.46,-0.8],[8.5,0],[8.58,-0.3],[8.66,0.2],[8.74,-1],[8.78,0],[8.86,-0.3],[8.94,0.2],[9.02,-0.2],[9.1,0.3],[9.14,0]];

const radial7 = [[0,0],[0.1,0.1],[0.2,-0.1],[0.3,0.1],[0.4,-0.1],[0.5,0],[0.56,0.2],[0.6,4],[0.64,10.5],[0.67,3],[0.7,-1],[0.74,-2.5],[0.8,-3.5],[0.86,-2.5],[0.92,-1.5],[1.0,-0.8],[1.1,-0.3],[1.2,-0.2],[1.3,0],[1.4,-0.1],[1.5,0.1],[1.6,0],[1.7,0.1],[1.8,-0.1],[1.9,0.5],[1.94,0],[2.0,0.1],[2.1,-0.1],[2.2,0.1],[2.3,0],[2.4,0.1],[2.45,0.2],[2.48,5],[2.52,12],[2.55,3],[2.58,-1],[2.63,-2.5],[2.68,-3],[2.73,-4],[2.78,-2.5],[2.84,-1.5],[2.92,-0.8],[3.0,-0.4],[3.1,-0.2],[3.2,0],[3.3,0.1],[3.4,0],[3.5,-0.1],[3.6,0.2],[3.63,1],[3.66,-0.5],[3.7,0],[3.8,0.1],[3.9,-0.1],[4.0,0.1],[4.1,0],[4.2,0.1],[4.3,-0.1],[4.4,0],[4.5,0.1],[4.6,0],[4.7,0.1],[4.8,-0.1],[4.9,0.1],[5.0,0],[5.1,0.1],[5.2,0],[5.3,0.3],[5.4,0],[5.48,0.2],[5.52,5],[5.56,12.5],[5.59,3],[5.62,-1],[5.67,-3],[5.72,-4.5],[5.77,-3],[5.83,-1.5],[5.9,-0.5],[5.96,0.3],[6.02,-0.1],[6.1,0.3],[6.18,-0.1],[6.26,0.4],[6.34,0],[6.42,0.3],[6.5,0.5],[6.56,0],[6.64,0.4],[6.72,0.1],[6.8,0.5],[6.86,0],[6.94,0.5],[7.02,0.1],[7.1,0.5],[7.18,0],[7.26,0.3],[7.34,-0.1],[7.42,0.2],[7.5,0],[7.58,0.3],[7.66,0],[7.7,0.3],[7.74,6],[7.78,13.5],[7.81,3],[7.84,-1],[7.88,-3],[7.94,-4],[8.0,-5],[8.05,-3],[8.1,-1.5],[8.18,-0.8],[8.26,-0.3],[8.34,0.1],[8.42,-0.2],[8.5,0.3],[8.58,-0.1],[8.66,0.2],[8.74,0.5],[8.8,-0.1],[8.88,0.3],[8.96,0],[9.04,0.4],[9.1,0],[9.16,0.2]];

const tangential7 = [[0,0],[0.04,0.5],[0.08,-0.2],[0.12,0.4],[0.16,-0.3],[0.2,0.3],[0.24,-0.1],[0.3,0.4],[0.35,-0.3],[0.4,0.2],[0.45,-0.2],[0.5,0.3],[0.54,0],[0.57,-1.5],[0.6,-3],[0.63,-1],[0.66,0.5],[0.69,1.8],[0.72,2],[0.75,0.8],[0.78,0.2],[0.82,0.3],[0.86,0],[0.9,0.1],[0.96,-0.1],[1.02,0.1],[1.08,-0.2],[1.14,0.2],[1.2,-0.1],[1.26,0.1],[1.32,-0.2],[1.38,0.2],[1.44,0.8],[1.48,-0.1],[1.54,0.2],[1.6,-0.3],[1.66,0],[1.72,0.2],[1.78,-0.2],[1.86,1.5],[1.9,-0.2],[1.96,0.2],[2.02,0],[2.08,0.3],[2.14,-0.2],[2.2,0.2],[2.26,-0.4],[2.32,0.1],[2.38,-0.2],[2.44,0.2],[2.5,-1.5],[2.55,-4.7],[2.59,-1],[2.62,3.1],[2.66,1],[2.7,0.6],[2.75,0.3],[2.8,0.5],[2.86,0],[2.92,0.2],[2.98,-0.1],[3.04,0.2],[3.1,0],[3.16,0.3],[3.2,1.5],[3.24,0.1],[3.3,0.2],[3.36,-0.2],[3.42,0.2],[3.48,0],[3.54,0.2],[3.6,-0.1],[3.66,0.3],[3.72,0],[3.78,0.2],[3.84,-0.2],[3.9,0.1],[3.96,0.4],[4.0,-0.1],[4.06,0.2],[4.12,0],[4.18,0.3],[4.24,-0.2],[4.3,0.1],[4.36,0],[4.42,0.2],[4.48,-0.3],[4.54,0.2],[4.6,0],[4.66,0.3],[4.72,-0.2],[4.78,0.5],[4.82,-0.2],[4.88,0.2],[4.94,0],[5.0,0.3],[5.06,-0.4],[5.12,0.2],[5.18,-0.1],[5.24,0.3],[5.3,0],[5.36,0.2],[5.42,-0.5],[5.47,-2],[5.51,-5.3],[5.55,-1],[5.6,0.5],[5.65,1],[5.71,2.6],[5.74,0.5],[5.78,0.3],[5.82,-0.2],[5.86,0.4],[5.9,0],[5.94,0.5],[5.98,-0.3],[6.02,0.3],[6.06,-0.2],[6.1,0.6],[6.14,0],[6.18,0.5],[6.22,-0.3],[6.26,0.4],[6.3,-0.2],[6.33,0.8],[6.36,-0.4],[6.39,0.9],[6.42,-0.4],[6.45,0.8],[6.48,-0.2],[6.52,0.5],[6.56,0],[6.6,0.3],[6.66,-0.2],[6.72,0.3],[6.78,0],[6.84,0.2],[6.9,-0.2],[6.96,0.3],[7.02,0],[7.08,0.3],[7.14,-0.2],[7.2,0.2],[7.26,0],[7.32,0.3],[7.38,-0.1],[7.44,0.2],[7.5,0],[7.55,0.2],[7.6,-1.5],[7.64,-4.6],[7.68,-1],[7.72,0.5],[7.78,1.2],[7.93,2.8],[7.96,1],[7.99,0.5],[8.03,0.1],[8.08,0.3],[8.14,0],[8.2,0.2],[8.26,-0.1],[8.32,0.2],[8.38,0],[8.44,0.3],[8.5,-0.1],[8.56,0.2],[8.62,0],[8.68,0.2],[8.74,-0.2],[8.8,0.2],[8.88,0],[8.96,0.2],[9.04,-0.1],[9.12,0.1]];

const radial8 = [[0,0],[0.15,0],[0.3,-0.2],[0.4,0.1],[0.5,0],[0.55,-0.5],[0.58,-4],[0.62,-12],[0.66,-5],[0.7,1],[0.74,3],[0.78,4.5],[0.83,5.4],[0.9,5.3],[0.95,1],[1.0,0.3],[1.04,0.6],[1.1,0],[1.2,-0.1],[1.3,0.1],[1.4,-0.1],[1.5,0.2],[1.6,0.1],[1.7,-0.1],[1.8,0.1],[1.9,-0.2],[2.0,0.1],[2.1,0],[2.2,0.1],[2.3,-0.1],[2.4,0],[2.46,-0.3],[2.5,-3],[2.55,-11],[2.59,-3],[2.63,2],[2.67,4],[2.72,6.5],[2.76,3],[2.8,2.5],[2.84,0.8],[2.9,0.2],[2.96,0.5],[3.05,-0.1],[3.15,0.2],[3.3,0.6],[3.35,0],[3.5,0.1],[3.6,0.6],[3.65,0],[3.8,0.1],[3.95,-0.1],[4.1,0.1],[4.2,-0.3],[4.3,0.1],[4.4,0.2],[4.5,-0.1],[4.6,0],[4.7,-0.4],[4.8,0.1],[4.9,0.1],[5.0,0.5],[5.05,-0.2],[5.2,0],[5.3,-0.1],[5.4,-0.1],[5.48,-0.6],[5.52,-7],[5.56,-16.5],[5.6,-6],[5.64,1],[5.68,4],[5.74,6.2],[5.78,4],[5.82,2.5],[5.86,2.4],[5.9,0.8],[5.96,0.2],[6.05,0.1],[6.2,-0.3],[6.3,0.1],[6.45,-0.1],[6.6,0],[6.75,-0.2],[6.9,0.1],[7.05,-0.2],[7.2,0.1],[7.35,-0.1],[7.5,0.2],[7.58,0.5],[7.62,0.1],[7.66,0.6],[7.7,-4],[7.74,-16.3],[7.78,-6],[7.82,1],[7.86,2.5],[7.9,3.5],[7.96,6.7],[8.0,4],[8.06,1.5],[8.12,0.3],[8.2,0],[8.35,0.1],[8.5,-0.1],[8.65,0.1],[8.8,0],[8.95,0.1],[9.1,-0.1],[9.2,0]];

const tangential8 = [[0,0],[0.06,0.2],[0.12,-0.1],[0.18,0.3],[0.22,0.8],[0.25,0],[0.32,0.2],[0.38,-0.3],[0.44,0.2],[0.5,0.5],[0.53,3],[0.56,5.8],[0.59,1],[0.62,-1],[0.65,-3.5],[0.68,-2],[0.72,0.5],[0.75,1],[0.78,0],[0.82,-0.5],[0.86,0.2],[0.9,-0.3],[0.96,0.1],[1.02,-0.2],[1.08,0.2],[1.14,0],[1.2,0.3],[1.26,-0.1],[1.32,0.2],[1.38,0.8],[1.41,0],[1.48,0.2],[1.54,-0.2],[1.6,0.1],[1.66,0.2],[1.72,-0.1],[1.78,0.2],[1.84,0.8],[1.87,0],[1.94,0.2],[2.0,-0.1],[2.06,0.2],[2.12,0],[2.18,0.3],[2.24,-0.2],[2.3,0.1],[2.36,0.2],[2.42,0],[2.46,3],[2.49,6.1],[2.52,4],[2.55,3],[2.58,-1],[2.61,-3],[2.64,-5],[2.68,-2],[2.72,-1],[2.76,-0.5],[2.8,-1],[2.85,-0.2],[2.9,0],[2.96,-0.5],[3.02,0.1],[3.08,-0.2],[3.14,0.3],[3.2,-0.3],[3.26,0],[3.32,-0.4],[3.38,0.1],[3.44,-0.2],[3.5,0.3],[3.56,-0.3],[3.62,0.1],[3.68,-0.2],[3.74,0.2],[3.8,-0.4],[3.86,0],[3.92,-0.2],[3.98,0.3],[4.04,-0.2],[4.1,0.1],[4.16,-0.3],[4.22,0.2],[4.28,-0.1],[4.34,0.5],[4.38,-0.2],[4.44,0],[4.5,-0.4],[4.56,0.1],[4.62,-0.2],[4.68,0.2],[4.74,-0.3],[4.8,0],[4.86,-0.2],[4.92,0.3],[4.98,-0.2],[5.04,0.1],[5.1,-0.3],[5.16,0.2],[5.22,-0.1],[5.28,0.1],[5.34,-0.3],[5.4,0],[5.48,0.3],[5.52,2],[5.56,5.5],[5.59,1],[5.62,0.5],[5.66,-1],[5.69,-3.5],[5.72,-1],[5.76,-2],[5.8,0.8],[5.84,-0.8],[5.88,0.2],[5.92,-0.5],[5.98,0.1],[6.04,-0.2],[6.1,0.3],[6.16,-0.1],[6.22,0.2],[6.28,-0.3],[6.34,0.1],[6.4,-0.2],[6.46,0.3],[6.52,-0.1],[6.58,0.2],[6.64,-0.2],[6.7,0.1],[6.76,-0.3],[6.82,0],[6.88,0.2],[6.94,-0.1],[7.0,0.3],[7.06,-0.2],[7.12,0.2],[7.18,0],[7.24,0.3],[7.3,-0.1],[7.36,0.2],[7.42,0],[7.48,0.3],[7.54,0.1],[7.6,0.2],[7.66,0],[7.71,3],[7.78,7],[7.81,1],[7.84,-0.5],[7.88,-2],[7.93,-3.6],[7.97,-1.5],[8.0,-0.5],[8.04,-0.3],[8.1,0],[8.16,-0.2],[8.22,0],[8.28,-0.3],[8.34,0],[8.42,-0.2],[8.5,0.1],[8.58,0],[8.66,0.2],[8.76,0],[8.86,0.1],[8.96,0.2],[9.04,0.3],[9.08,0.8],[9.12,0.5]];

const traces = [radial1, tangential1, radial2, tangential2,
  radial3, tangential3, radial4, tangential4,
  radial5, tangential5, radial6, tangential6,
  radial7, tangential7, radial8, tangential8];

// Panel B: enlarged sector 8 radial component
const panelBTitle = "Radial 8";
const panelBYTicks = [-20, -15, -10, -5, 0, 5, 10];
const panelBTrace = radial8;

// Panel A: schematic beat (arbitrary units)
const panelATrace = [[0,0],[2,1],[4,-1],[6,1],[8,-0.5],[10,0.5],[12.6,0],[13,27],[13.4,-34],[14,0],[15.5,-2],[16.2,-60],[17,-112],[17.8,-70],[18.4,-20],[19,-95],[19.6,-40],[20.5,-10],[22,-2],[23.5,2],[25,8],[27,14],[28.5,22],[29.5,18],[30.5,30],[31.5,25],[32,45],[32.5,38],[33,52],[33.6,40],[34.5,48],[35.2,25],[36.5,15],[38,8],[39.5,5],[41,0],[43,1],[45,-2],[47,0],[49,-1],[51,1],[53,-2],[55,0],[57,-1],[59,0],[61,-3],[63,1],[65,-1],[67,-2],[69,0],[71,-2],[73,-1],[74.5,-6],[76,0],[78,-3],[80,-1],[82,-4],[84,0],[86,-2],[88,-6],[89.5,-1],[91,-3],[93,0],[95,-1],[97,0],[98.5,0],[99,25],[99.6,-35],[100.2,0],[101.5,-10],[102.5,-112],[103.5,-30],[104.5,-75],[105.5,-20],[107,0],[108.5,8],[109.5,20],[110,-35],[110.8,10],[112.5,18],[114,28],[115,15],[116.5,30],[118.2,62],[119,30],[120,12],[121,22],[122,10],[123.5,5],[125,3],[126,30],[126.3,-35],[126.6,0],[128,2],[130,-1],[132,1],[134,-1],[136,0],[138,2],[140,-1],[142,0],[144,1],[145.5,4],[145.5,-4],[145.5,0],[147,0]];

// Caption text
const captionLines = [
  [["Figure 6 The beating signals obtained from an iPS cell-derived CM. A", true], [": The classification of beating", false]],
  [["phases. The time between each individual beat is marked with I. Contraction movement is defined as", false]],
  [["negative movement (marked with II) and relaxation movement as positive (marked with III). ", false], ["B", true], [": An enlarged", false]],
  [["image of the sector 8 radial component. ", false], ["C", true], [": The beating signals of each sector obtained from one of the", false]],
  [["measured CMs. For various sectors, the contraction seems to push certain areas away from the perceived", false]],
  [["beating focus point. This results in an upward peak in lieu of a downward peak due to the fusiform nature", false]],
  [["of the beating. While most sectors produce a signal of high quality, sectors such as radial 5 have too little", false]],
  [["movement to generate a well-formed displacement signal.", false]]
];
const captionLineWidths = [877, 842, 912, 890, 902, 912, 897, 512];

// ---------------- LAYOUT ----------------
const W = 957, H = 998;
const axisXs = [49.3, 281.7, 510, 737.7, 52.5, 281, 510, 737.7, 49.3, 281, 503.3, 737.7, 53.3, 278.5, 510, 733.3];
const colRight = [240.7, 468.4, 697, 924.5];
const titleCX = [155, 391.7, 610, 848.3];
const rowTop = [256, 389.3, 521.7, 655];
const plotH = 96.3;
const gridColor = "#c3c3c3";
const axisColor = "#9a9a9a";
const textColor = "#2b2b2b";
const sans = "'Liberation Sans', Arial, sans-serif";
const small = "Lato, 'Open Sans', sans-serif";

const svg = d3.select("body").append("svg").attr("width", W).attr("height", H);
svg.append("rect").attr("width", W).attr("height", H).attr("fill", "#fff");

// frame
svg.append("path")
  .attr("d", `M11.5,${H} L11.5,10 Q11.5,1.5 20,1.5 L${W-8},1.5 Q${W-1},1.5 ${W-1},9`)
  .attr("fill", "none").attr("stroke", "#555").attr("stroke-width", 1.3);

// ---------------- PANEL A ----------------
svg.append("text").attr("x", 37).attr("y", 55).text("A")
  .attr("font-family", sans).attr("font-weight", "bold").attr("font-size", 26).attr("fill", "#111");
{
  const xa = d3.scaleLinear().domain([0, 147]).range([105, 252]);
  const ya = d3.scaleLinear().domain([-112, 60]).range([207, 35]);
  svg.append("path").datum(panelATrace)
    .attr("d", d3.line().x(d => xa(d[0])).y(d => ya(d[1])))
    .attr("fill", "none").attr("stroke", "#1a1a1a").attr("stroke-width", 1.5).attr("stroke-linejoin", "round");
  function brace(x1, x2, y, h) {
    const xm = (x1 + x2) / 2, q = Math.min(6, (x2 - x1) / 4), yb = y + h / 2;
    return `M${x1},${y} Q${x1},${yb} ${x1 + q},${yb} L${xm - q},${yb} Q${xm},${yb} ${xm},${y + h} Q${xm},${yb} ${xm + q},${yb} L${x2 - q},${yb} Q${x2},${yb} ${x2},${y}`;
  }
  const bg = svg.append("g").attr("fill", "none").attr("stroke", "#222").attr("stroke-width", 1.6);
  bg.append("path").attr("d", brace(125, 200, 130, 9));
  bg.append("path").attr("d", brace(202, 219, 67, -6));
  bg.append("path").attr("d", brace(218, 234, 132, 5));
  const serif = "'Liberation Serif', 'DejaVu Serif', serif";
  const lab = [["I", 162, 163, 20], ["II", 210.5, 58, 18], ["III", 226.5, 160, 18]];
  lab.forEach(l => svg.append("text").attr("x", l[1]).attr("y", l[2]).attr("text-anchor", "middle")
    .attr("font-family", serif).attr("font-size", l[3]).attr("fill", "#222").text(l[0]));
}

// ---------------- PANEL B ----------------
svg.append("text").attr("x", 344).attr("y", 54).text("B")
  .attr("font-family", sans).attr("font-weight", "bold").attr("font-size", 26).attr("fill", "#111");
{
  const x = d3.scaleLinear().domain([0, 8.333]).range([462, 725]);
  const y = d3.scaleLinear().domain([-20, 10]).range([177, 41]);
  const g = svg.append("g");
  g.selectAll("line.grid").data(timeTicks.slice(1)).join("line")
    .attr("x1", d => x(d)).attr("x2", d => x(d)).attr("y1", y(10)).attr("y2", y(-20))
    .attr("stroke", gridColor).attr("stroke-width", 1.6);
  g.append("line").attr("x1", x(0)).attr("x2", x(9.2)).attr("y1", y(0)).attr("y2", y(0))
    .attr("stroke", "#a8a8a8").attr("stroke-width", 1);
  const ax = g.append("g").attr("transform", `translate(${x(0)},0)`)
    .call(d3.axisLeft(y).tickValues(panelBYTicks).tickSize(4).tickSizeOuter(0).tickPadding(5).tickFormat(d3.format("d")));
  ax.select(".domain").attr("stroke", axisColor);
  ax.selectAll(".tick line").attr("stroke", axisColor);
  ax.selectAll("text").attr("font-family", small).attr("font-size", 11).attr("fill", textColor);
  g.selectAll("text.xl").data(timeTicks).join("text")
    .attr("x", d => x(d)).attr("y", 199).attr("text-anchor", "middle")
    .attr("font-family", small).attr("font-size", 11).attr("fill", textColor)
    .text((d, i) => timeTickLabels[i]);
  g.append("path").datum(panelBTrace)
    .attr("d", d3.line().x(d => x(d[0])).y(d => y(d[1])))
    .attr("fill", "none").attr("stroke", "#111").attr("stroke-width", 1.3).attr("stroke-linejoin", "round");
  g.append("text").attr("x", 603).attr("y", 38).attr("text-anchor", "middle")
    .attr("font-family", small).attr("font-weight", "bold").attr("font-size", 15).attr("fill", "#111").text(panelBTitle);
  g.append("text").attr("x", 598).attr("y", 218).attr("text-anchor", "middle")
    .attr("font-family", sans).attr("font-size", 18.5).attr("fill", "#111").text("Time (s)");
  const yl = g.append("text").attr("transform", "translate(412,110) rotate(-90)")
    .attr("text-anchor", "middle").attr("font-family", sans).attr("font-size", 18.5).attr("fill", "#111");
  yl.append("tspan").attr("x", 0).attr("dy", 0).text("Normalized");
  yl.append("tspan").attr("x", 0).attr("dy", 18).text("Displacement");
}

// ---------------- PANEL C ----------------
svg.append("text").attr("x", 40).attr("y", 242).text("C")
  .attr("font-family", sans).attr("font-weight", "bold").attr("font-size", 26).attr("fill", "#111");

traces.forEach((data, i) => {
  const r = Math.floor(i / 4), c = i % 4;
  const top = rowTop[r], bottom = top + plotH;
  const x = d3.scaleLinear().domain([0, 8.333]).range([axisXs[i], colRight[c]]);
  const y = d3.scaleLinear().domain([yMin[i], yMax[i]]).range([bottom, top]);
  const g = svg.append("g");
  g.selectAll("line.grid").data(timeTicks.slice(1)).join("line")
    .attr("x1", d => x(d)).attr("x2", d => x(d)).attr("y1", top).attr("y2", bottom)
    .attr("stroke", gridColor).attr("stroke-width", 1.4);
  g.append("line").attr("x1", x(0)).attr("x2", x(9.2)).attr("y1", y(0)).attr("y2", y(0))
    .attr("stroke", "#aaa").attr("stroke-width", 0.9);
  const ticks = d3.range(yMin[i], yMax[i] + yStep[i] / 2, yStep[i]);
  const ax = g.append("g").attr("transform", `translate(${x(0)},0)`)
    .call(d3.axisLeft(y).tickValues(ticks).tickSize(2.5).tickSizeOuter(0).tickPadding(3).tickFormat(d3.format("d")));
  ax.select(".domain").attr("stroke", axisColor);
  ax.selectAll(".tick line").attr("stroke", axisColor);
  ax.selectAll("text").attr("font-family", small).attr("font-size", 7.5).attr("fill", textColor);
  g.selectAll("text.xl").data(timeTicks).join("text")
    .attr("x", d => x(d)).attr("y", bottom + 15.5).attr("text-anchor", "middle")
    .attr("font-family", small).attr("font-size", 7.5).attr("fill", textColor)
    .text((d, k) => timeTickLabels[k]);
  g.append("path").datum(data)
    .attr("d", d3.line().x(d => x(d[0])).y(d => y(d[1])))
    .attr("fill", "none").attr("stroke", "#111").attr("stroke-width", 1.25).attr("stroke-linejoin", "round");
  g.append("text").attr("x", titleCX[c]).attr("y", top - 2.5).attr("text-anchor", "middle")
    .attr("font-family", small).attr("font-weight", "bold").attr("font-size", 11.5).attr("fill", "#111")
    .text(panelTitles[i]);
});

// ---------------- CAPTION ----------------
const capFont = "'Liberation Sans Narrow', Roboto, 'Noto Sans', sans-serif";
captionLines.forEach((parts, i) => {
  const t = svg.append("text").attr("x", 28).attr("y", 789 + i * 28.3)
    .attr("font-family", capFont).attr("font-size", 18).attr("fill", "#222")
    .attr("textLength", captionLineWidths[i]).attr("lengthAdjust", "spacingAndGlyphs");
  parts.forEach(p => t.append("tspan").attr("font-weight", p[1] ? "bold" : "normal")
    .attr("fill", p[1] ? "#111" : "#333").text(p[0]));
});
</script>
</body></html>
